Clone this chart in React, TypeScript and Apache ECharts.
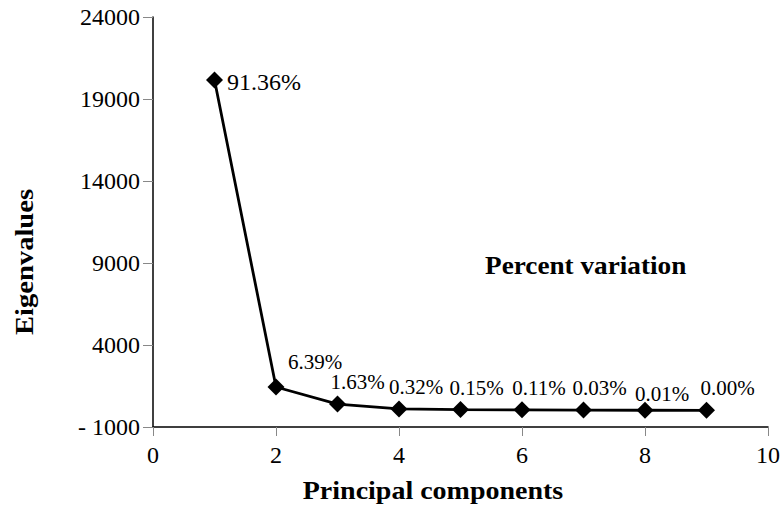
import React, { useEffect, useRef } from "react";
import * as echarts from "echarts";

const components = [1, 2, 3, 4, 5, 6, 7, 8, 9];
const eigenvalues = [20160, 1440, 400, 100, 60, 45, 30, 20, 15];
const percentLabels = ["91.36%", "6.39%", "1.63%", "0.32%", "0.15%", "0.11%", "0.03%", "0.01%", "0.00%"];
const yTicks = { min: -1000, max: 24000, interval: 5000 };
const xTicks = { min: 0, max: 10, interval: 2 };

const labelOffsets: [number, number][] = [
  [0, 0], [39, 0], [20, 0], [17, 0], [16, 0], [17, 0], [16, 0], [17, 6], [21, 0],
];

export default function App() {
  const ref = useRef<HTMLDivElement>(null);
  useEffect(() => {
    if (!ref.current) return;
    const chart = echarts.init(ref.current, null, { renderer: "svg" });
    const font = "Liberation Serif";
    const data = components.map((c, i) => ({
      value: [c, eigenvalues[i]],
      label:
        i === 0
          ? { position: "right", distance: 4, offset: [0, 2], fontSize: 24 }
          : { position: "top", distance: i === 1 ? 6 : 3, offset: labelOffsets[i] },
    }));
    chart.setOption({
      animation: false,
      backgroundColor: "#fff",
      textStyle: { fontFamily: font },
      grid: { left: 153, right: 14, top: 17, bottom: 92 },
      xAxis: {
        type: "value",
        min: xTicks.min,
        max: xTicks.max,
        interval: xTicks.interval,
        axisLine: { onZero: false, lineStyle: { color: "#000", width: 1.5 } },
        axisTick: { length: 9, lineStyle: { color: "#888" } },
        axisLabel: { color: "#000", fontSize: 24, fontFamily: font, margin: 16 },
        splitLine: { show: false },
      },
      yAxis: {
        type: "value",
        min: yTicks.min,
        max: yTicks.max,
        interval: yTicks.interval,
        axisLine: { show: true, lineStyle: { color: "#000", width: 1.5 } },
        axisTick: { show: true, length: 10, lineStyle: { color: "#888" } },
        axisLabel: {
          color: "#000",
          fontSize: 24,
          fontFamily: font,
          margin: 13,
          formatter: (v: number) => (v < 0 ? "- " + Math.abs(v) : String(v)),
        },
        splitLine: { show: false },
      },
      series: [
        {
          type: "line",
          data,
          symbol: "diamond",
          symbolSize: 17,
          itemStyle: { color: "#000" },
          lineStyle: { color: "#000", width: 2.8 },
          label: {
            show: true,
            color: "#000",
            fontSize: 21,
            fontFamily: font,
            formatter: (p: any) => percentLabels[p.dataIndex],
          },
        },
      ],
      graphic: [
        {
          type: "text",
          x: 485,
          y: 266,
          scaleX: 1.09,
          style: {
            text: "Percent variation",
            fontFamily: font,
            fontWeight: "bold",
            fontSize: 25,
            fill: "#000",
            align: "left",
            verticalAlign: "middle",
          },
        },
        {
          type: "text",
          x: 433,
          y: 491,
          scaleX: 1.12,
          style: {
            text: "Principal components",
            fontFamily: font,
            fontWeight: "bold",
            fontSize: 25,
            fill: "#000",
            align: "center",
            verticalAlign: "middle",
          },
        },
        {
          type: "text",
          x: 24,
          y: 262,
          rotation: Math.PI / 2,
          scaleX: 1.1,
          style: {
            text: "Eigenvalues",
            fontFamily: font,
            fontWeight: "bold",
            fontSize: 26,
            fill: "#000",
            align: "center",
            verticalAlign: "middle",
          },
        },
      ],
    });
    return () => chart.dispose();
  }, []);
  return <div ref={ref} style={{ width: 783, height: 519, position: "absolute", left: 0, top: 0 }} />;
}
